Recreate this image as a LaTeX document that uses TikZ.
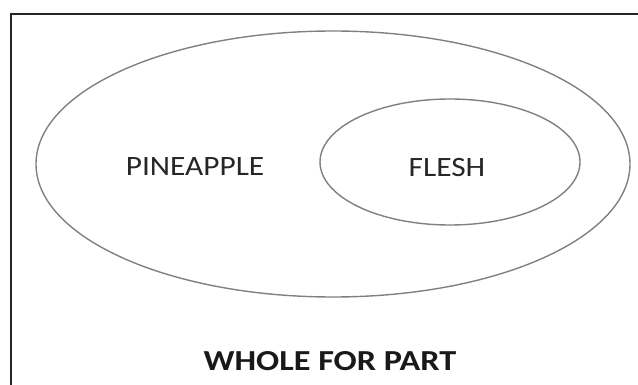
\documentclass[tikz,border=0pt]{standalone}
\usepackage{fontspec}
\setmainfont{Carlito}
\usetikzlibrary{shapes.geometric}
\newcommand{\widetext}[2]{\scalebox{#1}[1]{#2}}
\begin{document}
\begin{tikzpicture}[x=1pt,y=-1pt,
  frame/.style={draw=black!85, line width=2.2pt},
  setring/.style={draw=black!50, line width=1.4pt, ellipse, inner sep=0pt},
  setlabel/.style={font=\fontsize{28}{31}\selectfont, text=black!85},
  caption/.style={font=\fontsize{29}{32}\selectfont\bfseries, text=black!90}]
  \useasboundingbox (0,0) rectangle (638,385);
  % frame: only top and left edges fall inside the page
  \coordinate (ftl) at (11,14);
  \coordinate (fbl) at (11,390);
  \coordinate (ftr) at (645,14);
  \draw[frame] (fbl) -- (ftl) -- (ftr);
  % whole and part sets
  \node[setring, minimum width=594pt, minimum height=266pt] (whole) at (333,164) {};
  \node[setring, minimum width=260pt, minimum height=126pt] (part) at (450,162) {};
  \node[setlabel] (pine) at (195,167) {\widetext{1.12}{PINEAPPLE}};
  \node[setlabel] (flesh) at (447,168) {\widetext{1.12}{FLESH}};
  \node[caption] (title) at (330,361) {\widetext{1.18}{WHOLE FOR PART}};
\end{tikzpicture}
\end{document}
